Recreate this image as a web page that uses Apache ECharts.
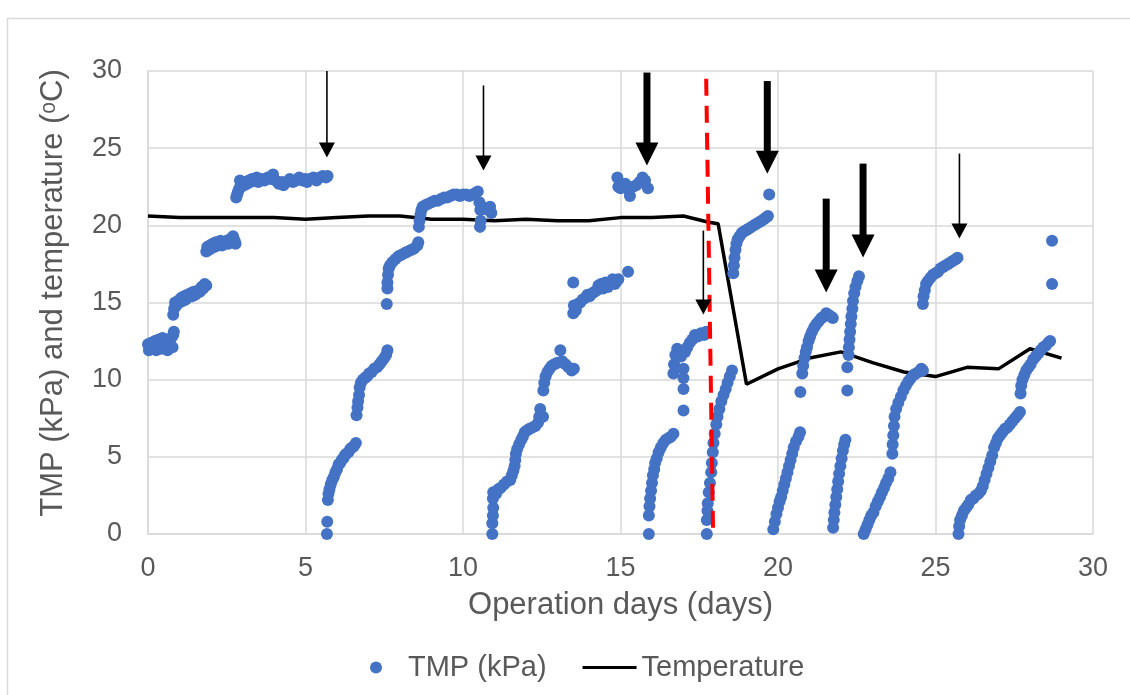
<!DOCTYPE html>
<html>
<head>
<meta charset="utf-8">
<script src="https://cdn.jsdelivr.net/npm/echarts@6/dist/echarts.min.js"></script>
<style>
html,body{margin:0;padding:0;background:#fff;}
#chart{width:1130px;height:695px;}
</style>
</head>
<body>
<div id="chart"></div>
<script>
// ---------------- DATA ----------------
const xTicks = [0, 5, 10, 15, 20, 25, 30];
const yTicks = [0, 5, 10, 15, 20, 25, 30];

// TMP (kPa) readings, [operation day, kPa], grouped by filtration cycle
const tmpCycleA = [[0.00,12.3],[0.03,11.9],[0.06,12.1],[0.10,12.4],[0.14,12.0],[0.18,12.2],[0.22,12.5],[0.26,11.9],[0.30,12.1],[0.34,12.6],[0.38,12.2],[0.42,12.0],[0.46,12.7],[0.50,12.3],[0.54,12.1],[0.58,12.6],[0.62,11.9],[0.66,12.4],[0.70,12.2],[0.74,12.7],[0.78,12.1],[0.80,12.9],[0.82,13.1]];
const tmpCycleB = [[0.80,14.2],[0.83,14.6],[0.86,15.0],[0.90,14.8],[0.95,15.1],[1.00,15.0],[1.05,15.3],[1.10,15.1],[1.15,15.4],[1.20,15.2],[1.25,15.5],[1.30,15.4],[1.35,15.6],[1.40,15.4],[1.45,15.7],[1.50,15.5],[1.55,15.6],[1.60,15.8],[1.65,15.7],[1.70,16.0],[1.75,15.9],[1.80,16.2],[1.85,16.1]];
const tmpCycleC = [[1.85,18.3],[1.88,18.6],[1.92,18.4],[1.96,18.7],[2.00,18.5],[2.05,18.8],[2.10,18.6],[2.15,18.9],[2.20,18.7],[2.25,18.8],[2.30,19.0],[2.35,18.7],[2.40,18.9],[2.45,18.8],[2.50,19.0],[2.55,18.8],[2.60,19.1],[2.65,18.9],[2.70,19.3],[2.75,19.0],[2.78,18.8]];
const tmpCycleD = [[2.80,21.8],[2.83,22.0],[2.86,22.2],[2.90,22.4],[2.92,22.9],[2.96,22.5],[3.00,22.7],[3.05,22.6],[3.10,22.8],[3.15,22.7],[3.20,22.9],[3.25,22.8],[3.30,23.0],[3.40,22.9],[3.45,23.1],[3.50,22.8],[3.60,23.0],[3.70,22.9],[3.80,23.1],[3.90,23.0],[3.97,23.3],[4.05,22.9],[4.15,22.7],[4.25,22.8],[4.30,22.6],[4.40,22.8],[4.50,23.0],[4.60,22.8],[4.70,22.9],[4.80,23.1],[4.90,22.9],[5.00,23.0],[5.05,22.8],[5.15,23.0],[5.25,23.1],[5.35,22.9],[5.45,23.1],[5.55,23.2],[5.65,23.1],[5.70,23.2]];
const tmpCycleE = [[5.68,0.0],[5.69,0.8],[5.71,2.2],[5.73,2.6],[5.76,2.9],[5.80,3.2],[5.85,3.5],[5.90,3.7],[5.95,4.0],[6.00,4.2],[6.05,4.5],[6.10,4.6],[6.15,4.8],[6.20,4.9],[6.25,5.1],[6.30,5.2],[6.36,5.3],[6.42,5.5],[6.48,5.6],[6.54,5.7],[6.60,5.9],
  [6.62,7.7],[6.65,8.2],[6.67,8.6],[6.70,9.0],[6.72,9.5],[6.76,9.8],[6.82,10.0],[6.88,10.1],[6.95,10.2],[7.02,10.4],[7.10,10.5],[7.18,10.7],[7.27,10.8],[7.35,11.0],[7.42,11.2],[7.50,11.4],[7.56,11.6],[7.60,11.9],
  [7.58,14.9],[7.60,15.9],[7.60,16.3],[7.62,16.8],[7.64,17.2],[7.68,17.4],[7.75,17.6],[7.85,17.8],[7.95,18.0],[8.05,18.1],[8.15,18.2],[8.25,18.3],[8.35,18.4],[8.45,18.5],[8.55,18.7],[8.58,18.9],
  [8.60,19.9],[8.62,20.3],[8.65,20.7],[8.68,21.0],[8.72,21.2],[8.80,21.3],[8.90,21.4],[9.00,21.5],[9.10,21.6],[9.20,21.6],[9.30,21.7],[9.40,21.8],[9.50,21.8],[9.60,21.9],[9.70,22.0],[9.80,22.0],[9.90,21.9],[10.00,22.0],[10.10,22.0],[10.20,21.9],[10.30,22.0],[10.40,22.1],[10.47,22.2],[10.52,21.5],[10.55,21.0],[10.60,21.2],[10.70,21.1],[10.80,21.0],[10.86,21.2],[10.90,20.8],[10.54,19.9],[10.56,20.3]];
const tmpCycleF = [[10.93,0.0],[10.93,0.7],[10.95,1.2],[10.96,1.7],[10.95,2.3],[10.96,2.7],[11.05,2.6],[11.12,2.9],[11.20,3.0],[11.30,3.2],[11.40,3.4],[11.50,3.5],[11.55,3.8],[11.60,4.1],[11.64,4.4],[11.66,4.8],[11.68,5.2],[11.72,5.5],[11.78,5.8],[11.85,6.1],[11.90,6.3],[11.96,6.6],[12.03,6.7],[12.10,6.8],[12.20,6.9],[12.30,7.0],[12.38,7.2],[12.42,7.6],[12.45,8.1],[12.54,7.6],
  [12.55,9.3],[12.58,9.8],[12.62,10.2],[12.68,10.5],[12.75,10.7],[12.82,10.9],[12.90,11.0],[13.00,11.1],[13.09,11.9],[13.15,11.2],[13.25,11.0],[13.35,10.8],[13.45,10.6],[13.52,10.7],
  [13.50,14.3],[13.52,14.8],[13.50,16.3],[13.58,14.5],[13.65,14.9],[13.72,15.0],[13.80,15.2],[13.88,15.3],[13.95,15.5],[14.02,15.4],[14.10,15.6],[14.18,15.7],[14.25,15.8],[14.30,16.1],[14.38,16.2],[14.45,15.9],[14.52,16.3],[14.60,16.0],[14.68,16.3],[14.75,16.5],[14.82,16.2],[14.88,16.4],[14.93,16.5],[15.24,17.0],
  [14.90,23.1],[14.93,22.5],[15.00,22.4],[15.08,22.6],[15.15,22.7],[15.25,22.3],[15.30,21.9],[15.40,22.5],[15.50,22.6],[15.60,22.8],[15.70,23.1],[15.78,22.9],[15.87,22.4]];
const tmpCycleG = [[15.90,0.0],[15.90,1.2],[15.92,1.8],[15.94,2.3],[15.97,2.8],[16.00,3.3],[16.03,3.8],[16.07,4.2],[16.10,4.6],[16.15,4.9],[16.21,5.3],[16.28,5.6],[16.36,5.9],[16.44,6.1],[16.52,6.2],[16.60,6.3],[16.68,6.5],
  [16.68,10.4],[16.70,11.0],[16.74,11.6],[16.80,12.0],[16.86,11.7],[16.92,11.5],[17.00,10.7],[17.00,10.1],[17.00,9.4],[17.00,8.0],[17.05,11.8],[17.12,12.1],[17.20,12.4],[17.28,12.6],[17.36,12.9],[17.45,12.8],[17.55,13.0],[17.65,12.9],[17.72,13.1]];
const tmpCycleH = [[17.74,0.0],[17.74,0.9],[17.76,1.5],[17.77,2.0],[17.80,2.7],[17.84,3.3],[17.88,4.0],[17.90,4.6],[17.93,5.3],[17.95,5.9],[17.99,6.5],[18.04,7.1],[18.08,7.6],[18.14,8.1],[18.20,8.6],[18.27,9.0],[18.34,9.4],[18.40,9.8],[18.47,10.2],[18.54,10.6],
  [18.58,16.9],[18.60,17.4],[18.62,17.9],[18.65,18.4],[18.68,18.8],[18.72,19.1],[18.78,19.3],[18.85,19.5],[18.92,19.6],[19.00,19.7],[19.08,19.8],[19.16,19.9],[19.24,20.0],[19.32,20.1],[19.40,20.2],[19.48,20.3],[19.55,20.4],[19.62,20.5],[19.68,20.6],[19.72,22.0]];
const tmpCycleI = [[19.85,0.3],[19.90,0.8],[19.95,1.3],[20.00,1.7],[20.05,2.1],[20.10,2.4],[20.15,2.8],[20.20,3.2],[20.25,3.6],[20.30,4.0],[20.35,4.4],[20.40,4.8],[20.45,5.2],[20.50,5.6],[20.57,6.0],[20.65,6.3],[20.70,6.6],
  [20.71,9.2],[20.77,10.4],[20.80,10.9],[20.84,11.4],[20.88,11.8],[20.92,12.1],[20.97,12.5],[21.02,12.8],[21.08,13.1],[21.15,13.4],[21.22,13.6],[21.30,13.8],[21.38,14.0],[21.46,14.1],[21.53,14.3],[21.60,14.2],[21.68,14.1],[21.74,14.0]];
const tmpCycleJ = [[21.75,0.4],[21.77,0.9],[21.79,1.4],[21.82,1.9],[21.85,2.4],[21.88,2.9],[21.91,3.4],[21.94,3.9],[21.98,4.4],[22.02,4.9],[22.06,5.4],[22.10,5.8],[22.14,6.1],
  [22.20,9.3],[22.20,10.8],[22.24,11.6],[22.25,12.1],[22.27,12.6],[22.29,13.1],[22.31,13.6],[22.33,14.1],[22.36,14.6],[22.38,15.1],[22.42,15.6],[22.46,16.0],[22.52,16.4],[22.57,16.7]];
const tmpCycleK = [[22.72,0.0],[22.78,0.3],[22.84,0.6],[22.90,0.9],[22.96,1.2],[23.03,1.4],[23.10,1.8],[23.17,2.1],[23.24,2.4],[23.30,2.7],[23.37,3.0],[23.43,3.3],[23.50,3.6],[23.57,4.0],
  [23.63,5.2],[23.64,5.8],[23.66,6.4],[23.68,7.0],[23.70,7.6],[23.75,8.1],[23.82,8.5],[23.90,8.9],[23.98,9.3],[24.06,9.6],[24.14,9.9],[24.22,10.1],[24.30,10.3],[24.38,10.4],[24.46,10.5],[24.55,10.7],[24.60,10.6],
  [24.60,14.9],[24.62,15.4],[24.66,15.8],[24.70,16.2],[24.76,16.4],[24.84,16.6],[24.92,16.8],[25.00,16.9],[25.08,17.0],[25.16,17.2],[25.24,17.3],[25.32,17.4],[25.40,17.5],[25.48,17.6],[25.56,17.7],[25.64,17.8],[25.70,17.9]];
const tmpCycleL = [[25.73,0.0],[25.75,0.5],[25.78,0.9],[25.84,1.2],[25.90,1.5],[25.97,1.7],[26.04,1.9],[26.12,2.2],[26.20,2.3],[26.28,2.5],[26.36,2.6],[26.44,2.8],[26.50,3.1],[26.56,3.5],[26.62,3.9],[26.68,4.3],[26.74,4.7],[26.80,5.1],[26.86,5.6],[26.92,5.9],[26.98,6.2],[27.05,6.4],[27.12,6.6],[27.20,6.8],[27.28,6.9],[27.36,7.1],[27.44,7.3],[27.52,7.5],[27.60,7.7],[27.68,7.9],
  [27.70,9.1],[27.72,9.6],[27.76,10.0],[27.82,10.3],[27.88,10.6],[27.95,10.8],[28.02,11.0],[28.10,11.3],[28.18,11.5],[28.26,11.7],[28.34,11.9],[28.42,12.1],[28.50,12.2],[28.58,12.4],[28.64,12.5],
  [28.70,16.2],[28.70,19.0]];

// Temperature (°C)
const tempDays   = [0,1,2,3,4,5,6,7,8,9,10,11,12,13,14,15,16,17,17.8,18.1,19,20,21,22,23,24,25,26,27,28,29];
const tempValues = [20.6,20.5,20.5,20.5,20.5,20.4,20.5,20.6,20.6,20.4,20.4,20.3,20.4,20.3,20.3,20.5,20.5,20.6,20.2,20.1,9.7,10.7,11.4,11.8,11.1,10.5,10.2,10.8,10.7,12.0,11.4];

// Annotation arrows (cleaning events): day, shaft top value, tip value, weight
const arrowDays    = [5.68, 10.65, 15.84, 17.63, 19.66, 21.53, 22.70, 25.76];
const arrowTops    = [30.0, 29.06, 29.9, 19.66, 29.35, 21.73, 24.0, 24.65];
const arrowTips    = [24.4, 23.55, 23.87, 14.23, 23.35, 15.65, 17.91, 19.14];
const arrowWeights = ['thin','thin','thick','thin','thick','thick','thick','thin'];

// Red dashed divider line (endpoints: day, value)
const dividerLine = [[17.72, 29.5], [17.94, 0]];

// ---------------- CHART ----------------
const FONT = '"Liberation Sans", Arial, sans-serif';
const GREY_TEXT = '#595959';
const GRID_COLOR = '#d9d9d9';

const tmpData = [].concat(tmpCycleA, tmpCycleB, tmpCycleC, tmpCycleD, tmpCycleE, tmpCycleF,
  tmpCycleG, tmpCycleH, tmpCycleI, tmpCycleJ, tmpCycleK, tmpCycleL);
const tempData = tempDays.map((d, i) => [d, tempValues[i]]);
const arrowData = arrowDays.map((d, i) => [d, arrowTops[i], arrowTips[i]]);

const ARROW_STYLE = {
  thin:  {shaft: 1.6, headW: 16, headH: 15},
  thick: {shaft: 7,   headW: 23, headH: 23}
};

const chart = echarts.init(document.getElementById('chart'), null, {renderer: 'canvas'});
chart.setOption({
  animation: false,
  backgroundColor: '#ffffff',
  textStyle: {fontFamily: FONT},
  graphic: [{
    type: 'rect', left: 5, top: 16, z: -10,
    shape: {width: 1200, height: 800},
    style: {fill: 'none', stroke: '#d9d9d9', lineWidth: 1.5}
  }],
  grid: {left: 148, right: 37, top: 71, bottom: 161, containLabel: false},
  legend: {
    left: 365, top: 648, itemGap: 36, itemWidth: 54, itemHeight: 12,
    textStyle: {fontSize: 29, color: GREY_TEXT, fontFamily: FONT},
    data: [
      {name: 'TMP (kPa)', icon: 'circle'},
      {name: 'Temperature', icon: 'path://M0,0 L54,0 L54,3.2 L0,3.2 Z', itemStyle: {color: '#000000'}}
    ]
  },
  xAxis: {
    type: 'value', min: xTicks[0], max: xTicks[xTicks.length - 1], interval: 5,
    name: 'Operation days (days)', nameLocation: 'middle', nameGap: 56,
    nameTextStyle: {fontSize: 31, color: GREY_TEXT, fontFamily: FONT},
    axisLine: {show: true, lineStyle: {color: GRID_COLOR, width: 1.5}},
    axisTick: {show: false},
    axisLabel: {fontSize: 27, color: GREY_TEXT, margin: 21, fontFamily: FONT},
    splitLine: {show: true, lineStyle: {color: GRID_COLOR, width: 1.5}}
  },
  yAxis: {
    type: 'value', min: yTicks[0], max: yTicks[yTicks.length - 1], interval: 5,
    name: 'TMP (kPa) and temperature (ᵒC)', nameLocation: 'middle', nameGap: 79, nameRotate: 90,
    nameTextStyle: {fontSize: 31, color: GREY_TEXT, fontFamily: FONT, padding: [0, 0, 0, 19]},
    axisLine: {show: true, lineStyle: {color: GRID_COLOR, width: 1.5}},
    axisTick: {show: false},
    axisLabel: {fontSize: 27, color: GREY_TEXT, margin: 26, fontFamily: FONT},
    splitLine: {show: true, lineStyle: {color: GRID_COLOR, width: 1.5}}
  },
  series: [
    {
      name: 'Temperature', type: 'line', z: 2,
      data: tempData, showSymbol: false, symbol: 'none',
      lineStyle: {color: '#000000', width: 3.5},
      itemStyle: {color: '#000000'}
    },
    {
      name: 'TMP (kPa)', type: 'scatter', z: 3,
      data: tmpData, symbol: 'circle', symbolSize: 12,
      itemStyle: {color: '#4472C4', opacity: 1}
    },
    {
      name: 'annotations', type: 'custom', z: 5, clip: false, silent: true,
      data: arrowData,
      encode: {x: 0, y: [1, 2]},
      renderItem: function (params, api) {
        const st = ARROW_STYLE[arrowWeights[params.dataIndex]];
        const top = api.coord([api.value(0), api.value(1)]);
        const tip = api.coord([api.value(0), api.value(2)]);
        const headTop = tip[1] - st.headH;
        return {
          type: 'group',
          children: [
            {type: 'rect', shape: {x: top[0] - st.shaft / 2, y: top[1], width: st.shaft, height: headTop - top[1] + 1},
             style: {fill: '#000000'}},
            {type: 'polygon', shape: {points: [[tip[0] - st.headW / 2, headTop], [tip[0] + st.headW / 2, headTop], [tip[0], tip[1]]]},
             style: {fill: '#000000'}}
          ]
        };
      },
      markLine: {
        silent: true, symbol: ['none', 'none'], label: {show: false},
        lineStyle: {color: '#ff0000', width: 4, type: [17, 10]},
        data: [[{coord: dividerLine[0]}, {coord: dividerLine[1]}]]
      }
    }
  ]
});
</script>
</body>
</html>
